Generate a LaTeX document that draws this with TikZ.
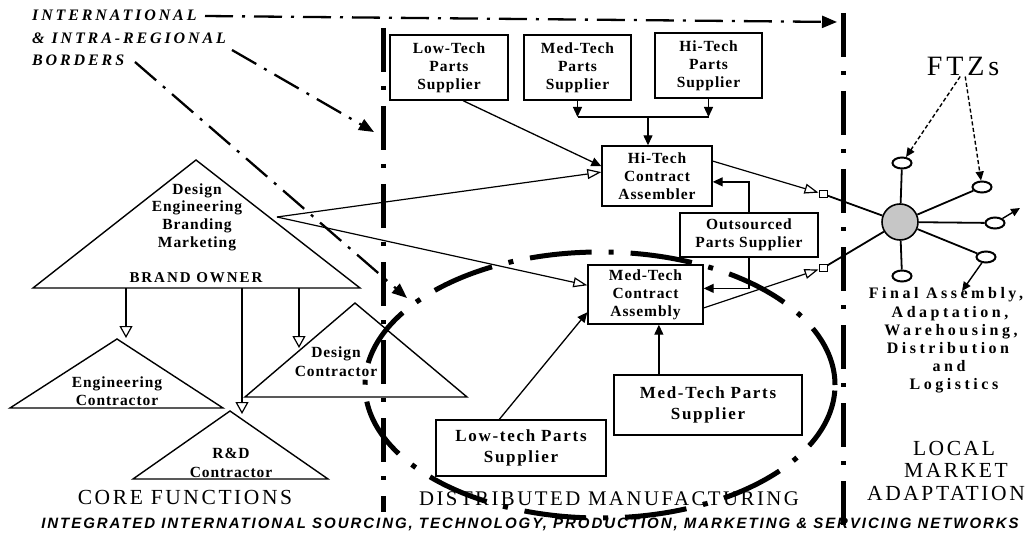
\documentclass[tikz,border=0pt]{standalone}
\usepackage{fontspec}
\setmainfont{Liberation Serif}
\newfontfamily\boxf{Liberation Serif}[LetterSpace=6]
\newfontfamily\bigf{Liberation Serif}[LetterSpace=10]
\newfontfamily\bof{Liberation Serif}[LetterSpace=13]
\newfontfamily\widef{Liberation Serif}[LetterSpace=22]
\newfontfamily\labf{Liberation Serif}[LetterSpace=18]
\newfontfamily\titf{Liberation Serif}[LetterSpace=12]
\newfontfamily\ftzf{Liberation Serif}[LetterSpace=14]
\newfontfamily\sansf{Liberation Sans}[LetterSpace=13]
\usetikzlibrary{arrows.meta,shapes.geometric}
\begin{document}
\begin{tikzpicture}[x=1pt,y=-1pt,
  box/.style={draw, line width=1.4pt, inner sep=0pt, align=center,
    font=\boxf\bfseries\fontsize{15.5}{18}\selectfont},
  bigbox/.style={draw, line width=1.4pt, inner sep=0pt, align=center,
    font=\bigf\bfseries\fontsize{17}{20.5}\selectfont},
  tritext/.style={inner sep=0pt, align=center,
    font=\boxf\bfseries\fontsize{15.5}{17.7}\selectfont},
  sidetext/.style={inner sep=0pt, anchor=base,
    font=\widef\bfseries\fontsize{16}{18}\selectfont},
  title/.style={inner sep=0pt, anchor=base,
    font=\titf\fontsize{21.5}{23}\selectfont},
  lab/.style={inner sep=0pt, anchor=base west,
    font=\labf\bfseries\itshape\fontsize{16}{18}\selectfont},
  tri/.style={draw, line width=1.4pt, line join=miter},
  conn/.style={line width=1.3pt},
  solidarr/.style={line width=1.3pt, -{Triangle[length=10pt,width=9pt]}},
  openarr/.style={line width=1.2pt, -{Triangle[length=14pt,width=10pt,fill=white]}},
  downarr/.style={line width=2pt, -{Triangle[length=12pt,width=13pt,fill=white,line width=1.2pt]}},
  border/.style={line width=5pt, dash pattern=on 44pt off 14pt on 4pt off 16pt},
  pointer/.style={line width=2.3pt, dash pattern=on 28pt off 9pt on 3pt off 9pt,
    -{Triangle[length=15pt,width=12pt]}},
  bigell/.style={line width=5pt, dash pattern=on 62pt off 17pt on 5pt off 17pt},
  ftz/.style={draw, ellipse, line width=2pt, minimum width=19pt, minimum height=11pt, inner sep=0pt, fill=white},
  spoke/.style={line width=1.8pt},
  dasharr/.style={line width=1.4pt, dash pattern=on 4pt off 2.5pt, -{Triangle[length=9pt,width=8pt]}},
  sq/.style={draw, line width=1pt, fill=white, minimum width=8pt, minimum height=6.5pt, inner sep=0pt}
]
\useasboundingbox (0,0) rectangle (1025,540);

% ---------- triangles (core functions) ----------
\draw[tri] (33,288) -- (196,160) -- (360,288) -- cycle;
\draw[tri] (10,408) -- (117,339) -- (223,408) -- cycle;
\draw[tri] (133,479) -- (230,411) -- (328,479) -- cycle;
\draw[tri] (245,397) -- (355,303) -- (467,397) -- cycle;

\node[tritext] (bo) at (197,217) {Design\\Engineering\\Branding\\Marketing};
\node[tritext, font=\bof\bfseries\fontsize{15}{16}\selectfont] (boname) at (196,278) {BRAND OWNER};
\node[tritext, font=\boxf\bfseries\fontsize{15.5}{18.5}\selectfont] (engc) at (117,391) {Engineering\\Contractor};
\node[tritext, font=\boxf\bfseries\fontsize{15.5}{18.5}\selectfont] (rdc) at (231,463) {R\&D\\Contractor};
\node[tritext, font=\boxf\bfseries\fontsize{15.5}{19}\selectfont] (desc) at (336,362) {Design\\Contractor};

\coordinate (b1) at (126,288);
\coordinate (b2) at (242,288);
\coordinate (b3) at (299,288);
\coordinate (engtop) at (126,338);
\coordinate (rdtop) at (242,414);
\coordinate (destop) at (299,348);
\coordinate (boR) at (277,217);
\draw[downarr] (b1) -- (engtop);
\draw[downarr] (b2) -- (rdtop);
\draw[downarr] (b3) -- (destop);

% ---------- distributed manufacturing boxes ----------
\node[box, minimum width=118pt, minimum height=65pt] (lowP) at (449,67.5) {Low-Tech\\Parts\\Supplier};
\node[box, minimum width=107pt, minimum height=65pt] (medP) at (577.5,67.5) {Med-Tech\\Parts\\Supplier};
\node[box, minimum width=107pt, minimum height=65pt] (hiP) at (708.5,65.5) {Hi-Tech\\Parts\\Supplier};
\node[box, minimum width=110pt, minimum height=60pt] (hiCA) at (657,176) {Hi-Tech\\Contract\\Assembler};
\node[box, minimum width=138pt, minimum height=44pt] (outS) at (749,235) {Outsourced\\Parts Supplier};
\node[box, minimum width=115pt, minimum height=59pt] (medCA) at (645.5,294.5) {Med-Tech\\Contract\\Assembly};
\node[bigbox, minimum width=170pt, minimum height=56pt] (lowS) at (521,448) {Low-tech Parts\\Supplier};
\node[bigbox, minimum width=188pt, minimum height=60pt] (medS) at (708,405) {Med-Tech Parts\\Supplier};

\coordinate (bar) at (648,117);
\draw[solidarr] (medP.south) -- (medP.south |- bar);
\draw[solidarr] (hiP.south) -- (hiP.south |- bar);
\draw[conn] (medP.south |- bar) -- (hiP.south |- bar);
\draw[solidarr] (bar) -- (bar |- hiCA.north);
\draw[solidarr] (lowP.293) -- (hiCA.170);
\draw[openarr] (boR) -- (hiCA.176);
\draw[openarr] (boR) -- (medCA.171);
\draw[solidarr] (lowS.127) -- (medCA.197);
\draw[solidarr] (medS.148) -- (medS.148 |- medCA.south);
\draw[solidarr] (outS.north) |- (hiCA.-6);
\draw[solidarr] (outS.south) |- (medCA.6);

% ---------- FTZ hub ----------
\node[draw, circle, line width=1.6pt, fill=gray!45, minimum size=36pt, inner sep=0pt] (hub) at (900,222) {};
\node[ftz] (e1) at (902,163) {};
\node[ftz] (e2) at (982,187) {};
\node[ftz] (e3) at (995,223) {};
\node[ftz] (e4) at (986,257) {};
\node[ftz] (e5) at (902,276) {};
\node[sq] (sqH) at (823,194) {};
\node[sq] (sqM) at (823,268) {};
\draw[openarr] (hiCA.15) -- (sqH);
\draw[openarr] (medCA.-13) -- (sqM);
\draw[spoke] (sqH) -- (hub);
\draw[spoke] (sqM) -- (hub);
\draw[spoke] (hub) -- (e1);
\draw[spoke] (hub) -- (e2);
\draw[spoke] (hub) -- (e3);
\draw[spoke] (hub) -- (e4);
\draw[spoke] (hub) -- (e5);
\coordinate (e3out) at (1020,208);
\coordinate (e4out) at (962,291);
\draw[line width=1.4pt, -{Triangle[length=9pt,width=8pt]}] (e3) -- (e3out);
\draw[line width=1.4pt, -{Triangle[length=9pt,width=8pt]}] (e4) -- (e4out);

\node[inner sep=1pt, font=\ftzf\fontsize{28}{30}\selectfont] (ftzs) at (963,66) {FTZs};
\draw[dasharr] (ftzs.255) -- (e1);
\draw[dasharr] (ftzs.282) -- (e2);

\node[sidetext] (s1) at (946,298) {Final Assembly,};
\node[sidetext] (s2) at (950,317) {Adaptation,};
\node[sidetext] (s3) at (951,335) {Warehousing,};
\node[sidetext] (s4) at (948,353) {Distribution};
\node[sidetext] (s5) at (949,371) {and};
\node[sidetext] (s6) at (954,389) {Logistics};

% ---------- titles ----------
\node[title] (t1) at (185,504) {CORE FUNCTIONS};
\node[title, font=\titf\fontsize{20.8}{23}\selectfont] (t2) at (609,505) {DISTRIBUTED MANUFACTURING};
\node[title] (t3) at (954,455) {LOCAL};
\node[title] (t4) at (956,477) {MARKET};
\node[title] (t5) at (946,500) {ADAPTATION};
\node[inner sep=0pt, anchor=base, font=\sansf\bfseries\itshape\fontsize{15}{17}\selectfont] (bottom) at (530,528)
  {INTEGRATED INTERNATIONAL SOURCING, TECHNOLOGY, PRODUCTION, MARKETING \& SERVICING NETWORKS};

% ---------- big dash-dot ellipse ----------
\draw[bigell] (600,385) ellipse [x radius=235pt, y radius=133pt];

% ---------- borders ----------
\coordinate (bLtop) at (383,28);
\coordinate (bLbot) at (383,512);
\coordinate (bRtop) at (843,13);
\coordinate (bRbot) at (843,532);
\draw[border] (bLtop) -- (bLbot);
\draw[border] (bRtop) -- (bRbot);

\node[lab] (lab1) at (32,21) {INTERNATIONAL};
\node[lab] (lab2) at (32,44) {\& INTRA-REGIONAL};
\node[lab] (lab3) at (32,66) {BORDERS};
\coordinate (p1s) at (205,16);
\coordinate (p1e) at (837,22);
\coordinate (p2s) at (232,50);
\coordinate (p2e) at (374,132);
\coordinate (p3s) at (135,62);
\coordinate (p3e) at (407,298);
\draw[pointer] (p1s) -- (p1e);
\draw[pointer] (p2s) -- (p2e);
\draw[pointer] (p3s) -- (p3e);
\end{tikzpicture}
\end{document}
